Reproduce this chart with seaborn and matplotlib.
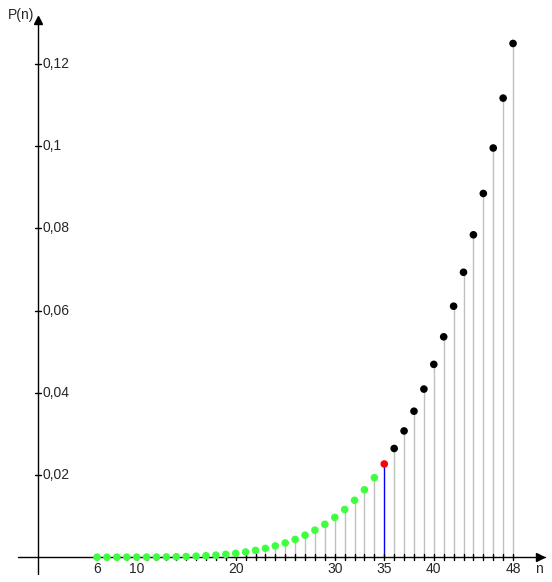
import numpy as np
import pandas as pd
import seaborn as sns
import matplotlib
matplotlib.use('Agg')
from matplotlib import pyplot as plt

# values, n = 6 .. 48
n_values = list(range(6, 49))
p_values = [0.0000001, 0.0000005, 0.0000017, 0.0000046, 0.0000103, 0.0000205,
            0.0000376, 0.0000645, 0.0001049, 0.0001631, 0.0002447, 0.0003559,
            0.0005043, 0.0006982, 0.0009476, 0.0012634, 0.0016583, 0.0021460,
            0.0027420, 0.0034637, 0.0043296, 0.0053604, 0.0065786, 0.0080088,
            0.0096773, 0.0116127, 0.0138460, 0.0164100, 0.0193403, 0.0226749,
            0.0264541, 0.0307209, 0.0355210, 0.0409030, 0.0469182, 0.0536208,
            0.0610681, 0.0693206, 0.0784417, 0.0884980, 0.0995606, 0.1117018,
            0.1250000]
marked_n = 35
x_tick_labels = [6, 10, 20, 30, 35, 40, 48]
y_tick_values = [0.02, 0.04, 0.06, 0.08, 0.1, 0.12]

data = pd.DataFrame({'n': n_values, 'p': p_values})
data['group'] = np.where(data.n < marked_n, 'below',
                         np.where(data.n == marked_n, 'marked', 'above'))

sns.set_style('white')
plt.rcParams['font.family'] = ['Liberation Sans', 'DejaVu Sans']

fig = plt.figure(figsize=(5.52, 5.82), dpi=100)
ax = fig.add_axes([0, 0, 1, 1])

# pixel -> data scaling
px_x = 9.905
px_y = 4110.0
x0_px = 37.6
y0_px = 557.2
ax.set_xlim(-x0_px / px_x, (552 - x0_px) / px_x)
ax.set_ylim(-(582 - y0_px) / px_y, y0_px / px_y)
for s in ax.spines.values():
    s.set_visible(False)
ax.set_xticks([])
ax.set_yticks([])

# stems
stem_colors = ['#0000ff' if n == marked_n else '#c0c0c0' for n in data.n]
ax.vlines(data.n, 0, data.p, colors=stem_colors, linewidth=1.0, zorder=2)

# axes with arrows
ax.plot([-20 / px_x, 545 / px_x - x0_px / px_x], [0, 0], color='black', lw=1.0, zorder=3)
ax.plot([0, 0], [-(574 - y0_px) / px_y, (y0_px - 18) / px_y], color='black', lw=1.0, zorder=3)
ax.plot([(540 - x0_px) / px_x], [0], marker='>', color='black', markersize=6, zorder=3)
ax.plot([0], [(y0_px - 20) / px_y], marker='^', color='black', markersize=6, zorder=3)

# tick marks
tick_dx = 3 / px_x
tick_dy = 3 / px_y
for n in data.n:
    ax.plot([n, n], [-tick_dy, tick_dy], color='black', lw=1.0, zorder=3)
for v in y_tick_values:
    ax.plot([-tick_dx, tick_dx], [v, v], color='black', lw=1.0, zorder=3)
    ax.text(5 / px_x, v, ('%g' % v).replace('.', ','), fontsize=10,
            ha='left', va='center')
for t in x_tick_labels:
    ax.text(t, -5 / px_y, str(t), fontsize=10, ha='center', va='top')

ax.text((539 - x0_px) / px_x, -5 / px_y, 'n', fontsize=10, ha='center', va='top')
ax.text(-3 / px_x, (y0_px - 15) / px_y, 'P(n)', fontsize=10, ha='right', va='center')

# dots
sns.scatterplot(data=data, x='n', y='p', hue='group', ax=ax, s=30,
                palette={'below': '#40ff40', 'marked': '#ff0000', 'above': '#000000'},
                edgecolor='none', legend=False, zorder=4)
ax.set_xlabel('')
ax.set_ylabel('')

fig.savefig('out.png', dpi=100)
